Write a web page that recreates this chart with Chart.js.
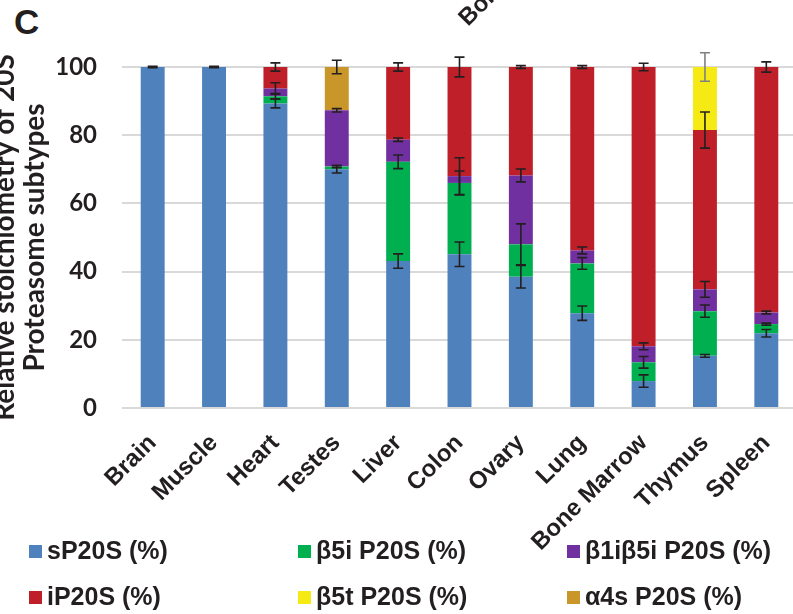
<!DOCTYPE html>
<html>
<head>
<meta charset="utf-8">
<script src="https://cdn.jsdelivr.net/npm/chart.js@4/dist/chart.umd.min.js"></script>
<style>
  body { margin: 0; width: 793px; height: 614px; overflow: hidden; background: #fff; position: relative; }
  #wrap { position: absolute; left: -10px; top: 0; width: 810px; height: 590px; }
  #panel { position: absolute; left: 14px; top: 2px; font: bold 35px "Liberation Sans", Arial, sans-serif; color: #231F20; }
  .leg { position: absolute; font: bold 25px "Liberation Sans", Arial, sans-serif; color: #231F20; white-space: nowrap; line-height: 28px; }
  .leg span { display: inline-block; width: 13px; height: 13px; margin-right: 5px; vertical-align: 1px; }
</style>
</head>
<body>
<div id="panel">C</div>
<div id="wrap"><canvas id="stoichChart" width="810" height="590"></canvas></div>
<div id="legend"></div>
<script>
// tissues
const tissues = ['Brain', 'Muscle', 'Heart', 'Testes', 'Liver', 'Colon', 'Ovary', 'Lung', 'Bone Marrow', 'Thymus', 'Spleen'];

// % of each subtype
const sP20S   = [100, 100, 89.3, 70.0, 43.1, 45.1, 38.5, 27.8, 7.9, 15.3, 21.9];
const b5i     = [0, 0, 2.1, 0.8, 29.1, 20.9, 9.5, 14.6, 5.5, 13.1, 2.7];
const b1ib5i  = [0, 0, 2.3, 16.5, 6.5, 2.0, 20.2, 3.8, 4.7, 6.4, 3.4];
const iP20S   = [0, 0, 6.3, 0, 21.3, 32.0, 31.8, 53.8, 81.9, 46.7, 72.0];
const b5t     = [0, 0, 0, 0, 0, 0, 0, 0, 0, 18.5, 0];
const a4s     = [0, 0, 0, 12.7, 0, 0, 0, 0, 0, 0, 0];

// error bars (+/-)
const sP20SErr  = [0.2, 0.2, 1.3, 1.1, 2.1, 3.6, 3.3, 2.1, 1.8, 0.4, 1.1];
const b5iErr    = [0, 0, 0.8, 0.3, 2.0, 3.5, 6.0, 1.7, 1.7, 1.8, 0.3];
const b1ib5iErr = [0, 0, 1.7, 0.5, 0.5, 5.4, 1.9, 1.0, 1.0, 2.3, 0.4];
const iP20SErr  = [0, 0, 1.2, 0, 1.2, 2.9, 0.4, 0.4, 1.1, 5.3, 1.5];
const b5tErr    = [0, 0, 0, 0, 0, 0, 0, 0, 0, 4.2, 0];
const a4sErr    = [0, 0, 0, 2.0, 0, 0, 0, 0, 0, 0, 0];

const yTicks = [0, 20, 40, 60, 80, 100];

const series = [
  { label: 'sP20S (%)',      data: sP20S,  err: sP20SErr,  color: '#4F81BD' },
  { label: 'β5i P20S (%)',   data: b5i,    err: b5iErr,    color: '#00B050' },
  { label: 'β1iβ5i P20S (%)', data: b1ib5i, err: b1ib5iErr, color: '#7030A0' },
  { label: 'iP20S (%)',      data: iP20S,  err: iP20SErr,  color: '#BF1F29' },
  { label: 'β5t P20S (%)',   data: b5t,    err: b5tErr,    color: '#F5EA14', errColor: '#808080' },
  { label: 'α4s P20S (%)',   data: a4s,    err: a4sErr,    color: '#C9962A' }
];

// error bars at the top of every stacked segment
const errorBars = {
  id: 'errorBars',
  afterDatasetsDraw(chart) {
    const ctx = chart.ctx;
    const yScale = chart.scales.y;
    ctx.save();
    ctx.lineWidth = 1.6;
    chart.data.datasets.forEach((ds, di) => {
      const meta = chart.getDatasetMeta(di);
      ds.data.forEach((v, i) => {
        const e = ds.err[i];
        if (!v || !e) return;
        let top = 0;
        for (let k = 0; k <= di; k++) top += chart.data.datasets[k].data[i];
        const x = meta.data[i].x;
        const y1 = yScale.getPixelForValue(top + e);
        const y2 = yScale.getPixelForValue(top - e);
        ctx.strokeStyle = ds.errColor || '#231F20';
        ctx.beginPath();
        ctx.moveTo(x, y1); ctx.lineTo(x, y2);
        ctx.moveTo(x - 5, y1); ctx.lineTo(x + 5, y1);
        ctx.moveTo(x - 5, y2); ctx.lineTo(x + 5, y2);
        ctx.stroke();
      });
    });
    ctx.restore();
  },
  afterDraw(chart) {
    // cut-off label left over from the panel above
    const ctx = chart.ctx;
    ctx.save();
    ctx.translate(478, 27);
    ctx.rotate(-Math.PI / 4);
    ctx.font = 'bold 24px "Liberation Sans", Arial, sans-serif';
    ctx.fillStyle = '#231F20';
    ctx.textBaseline = 'alphabetic';
    ctx.fillText('Bone Marrow', 0, 0);
    ctx.restore();
  }
};

const stoichChart = new Chart(document.getElementById('stoichChart').getContext('2d'), {
  type: 'bar',
  data: {
    labels: tissues,
    datasets: series.map(s => ({
      label: s.label,
      data: s.data,
      err: s.err,
      errColor: s.errColor,
      backgroundColor: s.color,
      borderWidth: 0,
      categoryPercentage: 1,
      barPercentage: 0.39
    }))
  },
  options: {
    responsive: false,
    animation: false,
    devicePixelRatio: 1,
    layout: { padding: { top: 67, right: 3, bottom: 0, left: 0 } },
    plugins: {
      legend: { display: false },
      tooltip: { enabled: false }
    },
    scales: {
      x: {
        stacked: true,
        grid: { display: false },
        border: { display: false },
        ticks: {
          autoSkip: false,
          maxRotation: 45,
          minRotation: 45,
          padding: 13,
          color: '#231F20',
          font: { family: '"Liberation Sans", Arial, sans-serif', size: 24, weight: 'bold' }
        },
        afterFit: (scale) => { scale.height = 182; }
      },
      y: {
        stacked: true,
        min: 0,
        max: 100,
        afterBuildTicks: (scale) => { scale.ticks = yTicks.map(v => ({ value: v })); },
        grid: { color: '#D9D9D9', lineWidth: 2, drawTicks: false },
        border: { display: false },
        ticks: {
          padding: 25,
          color: '#231F20',
          font: { family: 'Lato, sans-serif', size: 24, weight: 'bold' }
        },
        title: {
          display: true,
          text: ['Relative stoichiometry of 20S', 'Proteasome subtypes'],
          color: '#231F20',
          padding: { top: 0, bottom: 0 },
          font: { family: 'Lato, sans-serif', size: 28, weight: 'bold', lineHeight: 1.08 }
        },
        afterFit: (scale) => { scale.width = 132; }
      }
    }
  },
  plugins: [errorBars]
});

// legend, 3 columns x 2 rows
const legCols = [29, 298, 567];
const legRows = [536, 582];
const legendEl = document.getElementById('legend');
series.forEach((s, i) => {
  const d = document.createElement('div');
  d.className = 'leg';
  d.style.left = legCols[i % 3] + 'px';
  d.style.top = legRows[Math.floor(i / 3)] + 'px';
  d.innerHTML = '<span style="background:' + s.color + '"></span>' + s.label;
  legendEl.appendChild(d);
});
</script>
</body>
</html>
